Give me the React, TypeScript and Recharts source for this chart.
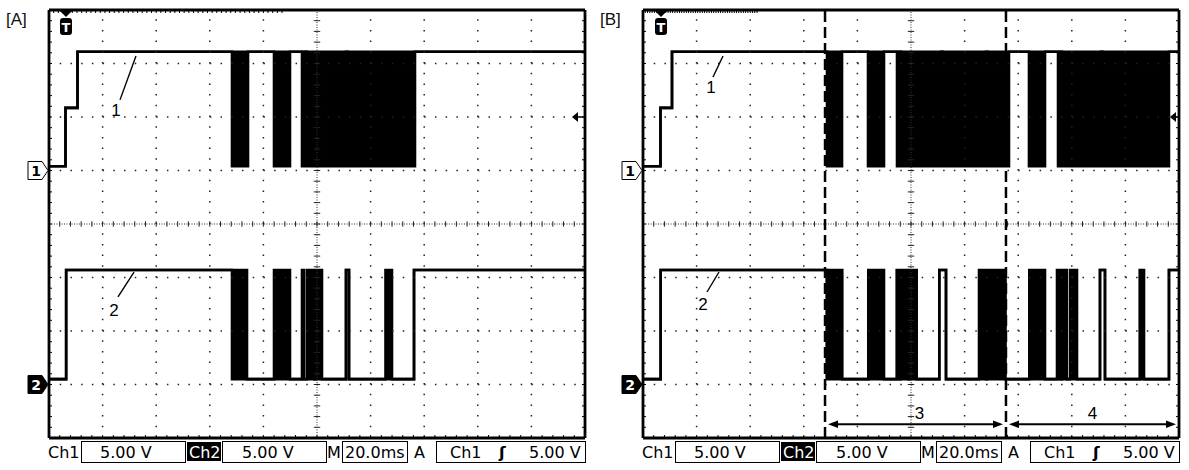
import React from 'react';
import { ComposedChart, Area, XAxis, YAxis, ReferenceLine, ReferenceDot } from 'recharts';

// ---- Data (x in time divisions 0..10, level states per segment) ----
// Panel A
const ch1A_times = [0, 0.308, 0.532, 3.414, 3.713, 4.198, 4.496, 4.72, 4.776, 4.813, 5.541, 5.569, 6.828];
const ch1A_states = ['L', 'M', 'H', 'B', 'H', 'B', 'H', 'B', 'H', 'B', 'H', 'B', 'H'];
const ch2A_times = [0, 0.32, 3.414, 3.694, 4.198, 4.496, 4.72, 4.757, 4.813, 4.953, 4.981, 5.093, 5.541, 5.597, 6.278, 6.399, 6.81];
const ch2A_states = ['L', 'H', 'B', 'L', 'B', 'L', 'B', 'L', 'B', 'L', 'B', 'L', 'H', 'L', 'B', 'L', 'H'];
// Panel B
const ch1B_times = [0, 0.326, 0.541, 3.433, 3.713, 4.198, 4.496, 4.739, 4.776, 4.813, 5.56, 5.588, 6.399, 6.427, 6.828, 7.201, 7.5, 7.743, 7.78, 7.817, 8.545, 8.573, 9.813];
const ch1B_states = ['L', 'M', 'H', 'B', 'H', 'B', 'H', 'B', 'H', 'B', 'H', 'B', 'H', 'B', 'H', 'B', 'H', 'B', 'H', 'B', 'H', 'B', 'H'];
const ch2B_times = [0, 0.33, 3.427, 3.718, 4.203, 4.496, 4.733, 4.77, 4.808, 4.95, 4.981, 5.106, 5.528, 5.653, 6.269, 6.399, 6.418, 6.763, 7.207, 7.5, 7.724, 7.78, 7.817, 7.905, 7.966, 8.097, 8.526, 8.619, 9.267, 9.347, 9.813];
const ch2B_states = ['L', 'H', 'B', 'L', 'B', 'L', 'B', 'L', 'B', 'L', 'B', 'L', 'H', 'L', 'B', 'L', 'B', 'L', 'B', 'L', 'B', 'L', 'B', 'L', 'B', 'L', 'H', 'L', 'B', 'L', 'H'];

// Levels (divisions from bottom of screen)
const ch1Levels: Record<string, number> = { L: 5.08, M: 6.17, H: 7.22 };
const ch2Levels: Record<string, number> = { L: 1.1, H: 3.14 };
const ch1Ground = 5;
const ch2Ground = 1;
const triggerLevel = 6;
const triggerA = 0.317;
const triggerB = 0.336;
const cursorsB = [3.396, 6.772];
const intervalLabels = ['3', '4'];

// Scope settings text
const statusTexts = { ch1: 'Ch1', ch2: 'Ch2', volts: '5.00 V', m: 'M', time: '20.0ms', a: 'A' };

// Grid
const gridX = [1, 2, 3, 4, 6, 7, 8, 9];
const gridY = [1, 2, 3, 5, 6, 7];
const minorX = Array.from({ length: 51 }, (_, i) => Math.round(i * 2) / 10);
const minorY = Array.from({ length: 41 }, (_, i) => Math.round(i * 2) / 10);

function stateAt(t: number[], s: string[], x: number) {
  let k = 0;
  for (let i = 0; i < t.length; i++) if (t[i] <= x) k = i;
  return s[k];
}
function rng(st: string, lv: Record<string, number>) {
  return st === 'B' ? [lv.L, lv.H] : [lv[st], lv[st]];
}
function buildData(t1: number[], s1: string[], t2: number[], s2: string[]) {
  const xs = Array.from(new Set([...t1, ...t2, 10])).sort((a, b) => a - b);
  return xs.map((x) => ({
    x,
    ch1: rng(stateAt(t1, s1, x), ch1Levels),
    ch2: rng(stateAt(t2, s2, x), ch2Levels),
  }));
}

const dataA = buildData(ch1A_times, ch1A_states, ch2A_times, ch2A_states);
const dataB = buildData(ch1B_times, ch1B_states, ch2B_times, ch2B_states);

const LABEL_FONT = '"Liberation Sans", Arial, sans-serif';
const STATUS_FONT = '"DejaVu Sans", sans-serif';

const noTick = () => <g />;

const textShape = (label: string) => (p: any) => (
  <text x={p.cx} y={p.cy} textAnchor="middle" dominantBaseline="central" fontSize={17} fontFamily={LABEL_FONT} fill="#000">
    {label}
  </text>
);

const groundShape = (label: string, filled: boolean) => (p: any) => {
  const cx = p.cx, cy = p.cy;
  const pts = `${cx - 21},${cy - 9} ${cx - 7},${cy - 9} ${cx - 1},${cy} ${cx - 7},${cy + 9} ${cx - 21},${cy + 9}`;
  return (
    <g>
      <polygon points={pts} fill={filled ? '#000' : '#fff'} stroke="#000" strokeWidth={1} />
      <text x={cx - 13} y={cy + 5} textAnchor="middle" fontSize={14} fontWeight="bold" fontFamily={STATUS_FONT} fill={filled ? '#fff' : '#000'}>
        {label}
      </text>
    </g>
  );
};

const triggerShape = (p: any) => {
  const cx = p.cx, cy = p.cy;
  return (
    <g>
      <polygon points={`${cx - 6},${cy + 1} ${cx + 6},${cy + 1} ${cx},${cy + 7}`} fill="#000" />
      <rect x={cx - 6} y={cy + 8} width={12} height={17} rx={3} fill="#000" />
      <text x={cx} y={cy + 22} textAnchor="middle" fontSize={13} fontWeight="bold" fontFamily={STATUS_FONT} fill="#fff">T</text>
    </g>
  );
};

const levelShape = (inset: number) => (p: any) => {
  const cx = p.cx, cy = p.cy;
  return (
    <g>
      <polygon points={`${cx - inset},${cy} ${cx - inset + 6},${cy - 5} ${cx - inset + 6},${cy + 5}`} fill="#000" />
      <line x1={cx - inset + 6} y1={cy} x2={cx} y2={cy} stroke="#000" strokeWidth={1.5} />
    </g>
  );
};

const arrowShape = (p: any) => {
  const x1 = Math.min(p.x1, p.x2) + 3;
  const x2 = Math.max(p.x1, p.x2) - 3;
  const y = p.y1;
  const h = 10, w = 3.8;
  return (
    <g>
      <line x1={x1 + h - 1} y1={y} x2={x2 - h + 1} y2={y} stroke="#000" strokeWidth={2} />
      <polygon points={`${x1},${y} ${x1 + h},${y - w} ${x1 + h},${y + w}`} fill="#000" />
      <polygon points={`${x2},${y} ${x2 - h},${y - w} ${x2 - h},${y + w}`} fill="#000" />
    </g>
  );
};

type Ann = { text: string; x: number; y: number; from: [number, number]; to: [number, number] };

function StatusBar() {
  const t = { fontFamily: STATUS_FONT, fontSize: 16, fill: '#000' } as any;
  const y = 458;
  return (
    <g>
      <text x={48} y={y} {...t}>{statusTexts.ch1}</text>
      <rect x={81.5} y={441.5} width={104} height={21} fill="none" stroke="#000" strokeWidth={1} />
      <text x={100} y={y} {...t}>{statusTexts.volts}</text>
      <rect x={187} y={442} width={34} height={19} fill="#000" />
      <text x={189} y={y} {...t} fill="#fff">{statusTexts.ch2}</text>
      <rect x={222.5} y={441.5} width={104} height={21} fill="none" stroke="#000" strokeWidth={1} />
      <text x={242} y={y} {...t}>{statusTexts.volts}</text>
      <text x={327} y={y} {...t}>{statusTexts.m}</text>
      <rect x={342.5} y={441.5} width={65} height={21} fill="none" stroke="#000" strokeWidth={1} />
      <text x={345} y={y} {...t}>{statusTexts.time}</text>
      <text x={414} y={y} {...t}>{statusTexts.a}</text>
      <rect x={436.5} y={441.5} width={149} height={21} fill="none" stroke="#000" strokeWidth={1} />
      <text x={450} y={y} {...t}>{statusTexts.ch1}</text>
      <text x={499} y={y} {...t} fontWeight="bold">ʃ</text>
      <text x={529} y={y} {...t}>{statusTexts.volts}</text>
    </g>
  );
}

function Panel(props: {
  left: number; title: string; data: any[]; trigger: number; anns: Ann[]; levelInset: number; cursors?: number[];
}) {
  const { left, title, data, trigger, anns, levelInset, cursors } = props;
  const axisLine = { stroke: '#000', strokeWidth: 2.8 };
  const tickLine = { stroke: '#000', strokeWidth: 1 };
  return (
    <div style={{ position: 'absolute', left, top: 0, width: 595, height: 470 }}>
      <ComposedChart width={595} height={470} data={data} margin={{ top: 10, left: 49, right: 10, bottom: 32 }}>
        <XAxis dataKey="x" type="number" domain={[0, 10]} ticks={minorX} interval={0} mirror tickSize={3} tick={noTick} axisLine={axisLine} tickLine={tickLine} allowDataOverflow />
        <XAxis xAxisId="t" orientation="top" type="number" domain={[0, 10]} ticks={minorX} interval={0} mirror tickSize={3} tick={noTick} axisLine={axisLine} tickLine={tickLine} allowDataOverflow />
        <YAxis type="number" domain={[0, 8]} ticks={minorY} interval={0} mirror tickSize={3} tick={noTick} axisLine={axisLine} tickLine={tickLine} allowDataOverflow />
        <YAxis yAxisId="r" orientation="right" type="number" domain={[0, 8]} ticks={minorY} interval={0} mirror tickSize={3} tick={noTick} axisLine={axisLine} tickLine={tickLine} allowDataOverflow />

        {gridX.map((g) => (
          <ReferenceLine key={'gx' + g} x={g} stroke="#222" strokeWidth={1.5} strokeDasharray="1.5 9.2" />
        ))}
        {gridY.map((g) => (
          <ReferenceLine key={'gy' + g} y={g} stroke="#222" strokeWidth={1.5} strokeDasharray="1.5 9.22" />
        ))}
        <ReferenceLine x={5} stroke="#333" strokeWidth={1} strokeDasharray="1 1.5" />
        <ReferenceLine y={4} stroke="#333" strokeWidth={1} strokeDasharray="1 1.5" />
        {minorX.filter((v) => v > 0 && v < 10).map((v) => (
          <ReferenceLine key={'cx' + v} segment={[{ x: v, y: 3.95 }, { x: v, y: 4.05 }]} stroke="#222" strokeWidth={1} />
        ))}
        {minorY.filter((v) => v > 0 && v < 8).map((v) => (
          <ReferenceLine key={'cy' + v} segment={[{ x: 4.94, y: v }, { x: 5.06, y: v }]} stroke="#222" strokeWidth={1} />
        ))}

        <Area dataKey="ch1" type="stepAfter" stroke="#000" strokeWidth={2.6} fill="#000" fillOpacity={1} isAnimationActive={false} dot={false} activeDot={false} />
        <Area dataKey="ch2" type="stepAfter" stroke="#000" strokeWidth={2.6} fill="#000" fillOpacity={1} isAnimationActive={false} dot={false} activeDot={false} />

        {anns.map((a) => (
          <ReferenceLine key={'al' + a.text} segment={[{ x: a.from[0], y: a.from[1] }, { x: a.to[0], y: a.to[1] }]} stroke="#000" strokeWidth={1.4} />
        ))}
        {anns.map((a) => (
          <ReferenceDot key={'at' + a.text} x={a.x} y={a.y} r={0} shape={textShape(a.text)} ifOverflow="visible" />
        ))}

        {cursors && cursors.map((c) => (
          <ReferenceLine key={'cur' + c} x={c} stroke="#000" strokeWidth={2.5} strokeDasharray="11 5" />
        ))}
        {cursors && (
          <ReferenceLine segment={[{ x: cursors[0], y: 0.256 }, { x: cursors[1], y: 0.256 }]} shape={arrowShape}
            label={{ value: intervalLabels[0], position: 'top', offset: 5, fill: '#000', fontSize: 17, fontFamily: LABEL_FONT, dx: 4 }} />
        )}
        {cursors && (
          <ReferenceLine segment={[{ x: cursors[1], y: 0.256 }, { x: 10, y: 0.256 }]} shape={arrowShape}
            label={{ value: intervalLabels[1], position: 'top', offset: 5, fill: '#000', fontSize: 17, fontFamily: LABEL_FONT }} />
        )}

        <ReferenceDot x={0} y={ch1Ground} r={0} shape={groundShape('1', false)} ifOverflow="visible" />
        <ReferenceDot x={0} y={ch2Ground} r={0} shape={groundShape('2', true)} ifOverflow="visible" />
        <ReferenceDot x={trigger} y={8} r={0} shape={triggerShape} ifOverflow="visible" />
        <ReferenceDot x={10} y={triggerLevel} r={0} shape={levelShape(levelInset)} ifOverflow="visible" />
      </ComposedChart>
      <svg width={595} height={470} style={{ position: 'absolute', left: 0, top: 0, pointerEvents: 'none' }}>
        <text x={6} y={25} fontSize={17} fontFamily={LABEL_FONT} fill="#111">{title}</text>
        <StatusBar />
      </svg>
    </div>
  );
}

const annsA: Ann[] = [
  { text: '1', x: 1.25, y: 6.13, from: [1.325, 6.32], to: [1.623, 7.14] },
  { text: '2', x: 1.213, y: 2.374, from: [1.287, 2.636], to: [1.586, 3.1] },
];
const annsB: Ann[] = [
  { text: '1', x: 1.269, y: 6.56, from: [1.306, 6.748], to: [1.493, 7.14] },
  { text: '2', x: 1.119, y: 2.486, from: [1.194, 2.729], to: [1.418, 3.103] },
];

export default function App() {
  return (
    <div style={{ position: 'absolute', left: 0, top: 0, width: 1189, height: 470, background: '#fff', overflow: 'hidden' }}>
      <Panel left={0} title="[A]" data={dataA} trigger={triggerA} anns={annsA} levelInset={13} />
      <Panel left={594} title="[B]" data={dataB} trigger={triggerB} anns={annsB} levelInset={9} cursors={cursorsB} />
    </div>
  );
}
